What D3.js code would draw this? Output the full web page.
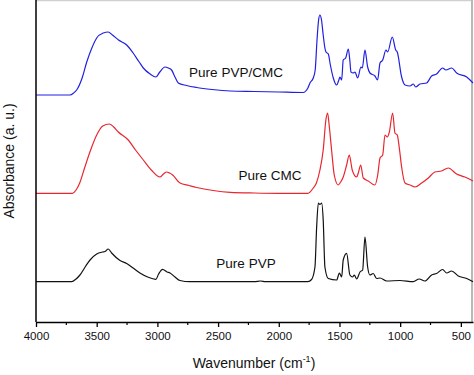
<!DOCTYPE html>
<html>
<head>
<meta charset="utf-8">
<script src="https://cdn.jsdelivr.net/npm/d3@7"></script>
<style>
  body { margin: 0; background: #fff; }
  svg { display: block; font-family: "Liberation Sans", Arial, sans-serif; }
</style>
</head>
<body>
<div id="chart"></div>
<script>
const width = 474, height = 375;

// wavenumber (cm-1), absorbance (a.u., stacked with offsets)
const pvpCmcWave = [4000,3720,3690,3665,3620,3582,3540,3500,3446,3405,3370,3320,3253,3200,3150,3116,3060,3012,2980,2938,2910,2883,2855,2828,2760,2677,2550,2400,2200,2000,1800,1760,1743,1716,1700,1685,1672,1661,1648,1634,1620,1611,1592,1575,1551,1523,1505,1496,1482,1469,1449,1427,1415,1405,1386,1372,1350,1323,1312,1290,1268,1249,1208,1186,1166,1144,1117,1103,1065,1037,1024,988,960,919,892,872,837,782,741,700,650,623,576,535,452,400];
const pvpCmcAbs = [2.27,2.27,2.29,2.32,2.44,2.60,2.74,2.84,2.89,2.90,2.87,2.82,2.77,2.69,2.60,2.54,2.48,2.45,2.50,2.55,2.54,2.52,2.45,2.39,2.365,2.345,2.325,2.31,2.305,2.30,2.295,2.34,2.39,2.44,2.52,2.82,3.02,3.07,3.02,2.87,2.74,2.70,2.68,2.57,2.44,2.37,2.42,2.45,2.42,2.62,2.64,2.73,2.62,2.50,2.49,2.50,2.44,2.55,2.54,2.72,2.55,2.49,2.46,2.42,2.59,2.62,2.72,2.70,2.85,2.72,2.70,2.45,2.37,2.36,2.38,2.35,2.38,2.39,2.46,2.48,2.54,2.52,2.54,2.49,2.45,2.39];

const cmcWave = [4000,3700,3670,3640,3600,3550,3500,3450,3396,3360,3322,3240,3180,3116,3050,2979,2950,2924,2900,2874,2814,2740,2677,2540,2400,2200,2000,1760,1716,1690,1661,1634,1612,1598,1585,1565,1543,1510,1490,1469,1441,1419,1405,1395,1358,1345,1325,1304,1263,1208,1185,1166,1144,1125,1106,1089,1062,1043,1024,1005,988,960,919,878,823,768,714,659,604,535,467,400];
const cmcAbs = [1.287,1.287,1.32,1.39,1.54,1.72,1.87,1.96,1.98,1.95,1.90,1.82,1.72,1.62,1.52,1.45,1.48,1.50,1.49,1.47,1.39,1.365,1.345,1.315,1.297,1.29,1.287,1.287,1.34,1.39,1.52,1.72,2.02,2.09,1.97,1.72,1.47,1.37,1.40,1.45,1.57,1.67,1.59,1.52,1.45,1.49,1.57,1.44,1.41,1.37,1.47,1.64,1.67,1.87,1.85,1.90,2.09,1.89,1.87,1.72,1.55,1.39,1.37,1.35,1.39,1.44,1.50,1.51,1.54,1.48,1.45,1.41];

const pvpWave = [4000,3706,3670,3638,3590,3555,3500,3451,3432,3405,3377,3308,3253,3200,3144,3080,3012,2990,2957,2920,2896,2855,2814,2732,2200,2150,2110,1760,1730,1702,1688,1674,1661,1647,1634,1620,1592,1523,1501,1482,1469,1441,1414,1392,1378,1358,1331,1309,1290,1268,1249,1222,1194,1166,1111,1002,892,843,796,741,700,650,617,576,521,452,400];
const pvpAbs = [0.403,0.403,0.43,0.47,0.56,0.62,0.68,0.70,0.705,0.73,0.69,0.615,0.585,0.54,0.49,0.45,0.427,0.48,0.527,0.50,0.49,0.45,0.415,0.403,0.403,0.41,0.403,0.403,0.425,0.55,0.95,1.19,1.175,1.19,1.02,0.55,0.435,0.42,0.49,0.45,0.62,0.687,0.47,0.45,0.47,0.43,0.50,0.52,0.85,0.55,0.47,0.485,0.435,0.44,0.41,0.415,0.403,0.43,0.41,0.47,0.485,0.525,0.49,0.51,0.46,0.435,0.403];

const seriesNames = ["Pure PVP/CMC", "Pure CMC", "Pure PVP"];
const seriesColors = ["#2020e0", "#e8262e", "#111111"];
const xTicks = [4000, 3500, 3000, 2500, 2000, 1500, 1000, 500];
const xMinorTicks = [3750, 3250, 2750, 2250, 1750, 1250, 750];

const margin = {top: 1, right: 2, bottom: 53, left: 36};

const svg = d3.select("#chart").append("svg")
    .attr("width", width)
    .attr("height", height);

const x = d3.scaleLinear()
    .domain([4000, 400])
    .range([margin.left, width - margin.right + 1]);

const y = d3.scaleLinear()
    .domain([0, 3.21])
    .range([height - margin.bottom, margin.top]);

// light frame on top and right
svg.append("line")
    .attr("x1", margin.left).attr("x2", width - margin.right)
    .attr("y1", 0.5).attr("y2", 0.5)
    .attr("stroke", "#d0d0d0").attr("stroke-width", 1.5);
svg.append("line")
    .attr("x1", width - margin.right).attr("x2", width - margin.right)
    .attr("y1", 0).attr("y2", height - margin.bottom)
    .attr("stroke", "#b8b8b8").attr("stroke-width", 2);

let line = d3.line()
    .x(d => x(d[0]))
    .y(d => y(d[1]))
    .curve(d3.curveMonotoneX);

const series = [
    d3.zip(pvpCmcWave, pvpCmcAbs),
    d3.zip(cmcWave, cmcAbs),
    d3.zip(pvpWave, pvpAbs)
];

svg.append("g")
    .selectAll("path")
    .data(series)
    .join("path")
        .attr("fill", "none")
        .attr("stroke", (d, i) => seriesColors[i])
        .attr("stroke-width", 1.2)
        .attr("stroke-linejoin", "round")
        .attr("d", line);

// series labels
const labelPos = [[236, 2.50], [270, 1.47], [246, 0.59]];
svg.append("g")
    .attr("font-size", 13.5)
    .attr("text-anchor", "middle")
    .selectAll("text")
    .data(seriesNames)
    .join("text")
        .attr("x", (d, i) => labelPos[i][0])
        .attr("y", (d, i) => y(labelPos[i][1]))
        .attr("dy", "0.35em")
        .attr("fill", "#111")
        .text(d => d);

// x axis
const xAxis = svg.append("g")
    .attr("transform", `translate(0,${height - margin.bottom})`)
    .call(d3.axisBottom(x).tickValues(xTicks).tickSize(5).tickSizeOuter(0).tickFormat(d3.format("d")));
xAxis.select(".domain").attr("stroke-width", 1.5);
xAxis.selectAll(".tick line").attr("stroke-width", 1.3);
xAxis.selectAll(".tick text")
    .attr("font-size", 11.5)
    .attr("font-family", "Liberation Sans, Arial, sans-serif")
    .attr("dy", "0.85em")
    .attr("fill", "#111");
xAxis.selectAll(".minor")
    .data(xMinorTicks)
    .join("line")
        .attr("class", "minor")
        .attr("x1", d => x(d)).attr("x2", d => x(d))
        .attr("y1", 0).attr("y2", 3)
        .attr("stroke", "#000").attr("stroke-width", 1.2);

// y axis line (no ticks)
svg.append("line")
    .attr("x1", margin.left).attr("x2", margin.left)
    .attr("y1", 0).attr("y2", height - margin.bottom)
    .attr("stroke", "#000").attr("stroke-width", 1.5);

// axis titles
const xt = svg.append("text")
    .attr("x", (margin.left + width - margin.right) / 2)
    .attr("y", 368)
    .attr("text-anchor", "middle")
    .attr("font-size", 14)
    .attr("fill", "#111");
xt.append("tspan").text("Wavenumber (cm");
xt.append("tspan").attr("font-size", 9).attr("dy", -6).text("-1");
xt.append("tspan").attr("dy", 6).text(")");

svg.append("text")
    .attr("transform", `translate(14,${(height - margin.bottom) / 2}) rotate(-90)`)
    .attr("text-anchor", "middle")
    .attr("font-size", 14)
    .attr("fill", "#111")
    .text("Absorbance (a. u.)");
</script>
</body>
</html>
